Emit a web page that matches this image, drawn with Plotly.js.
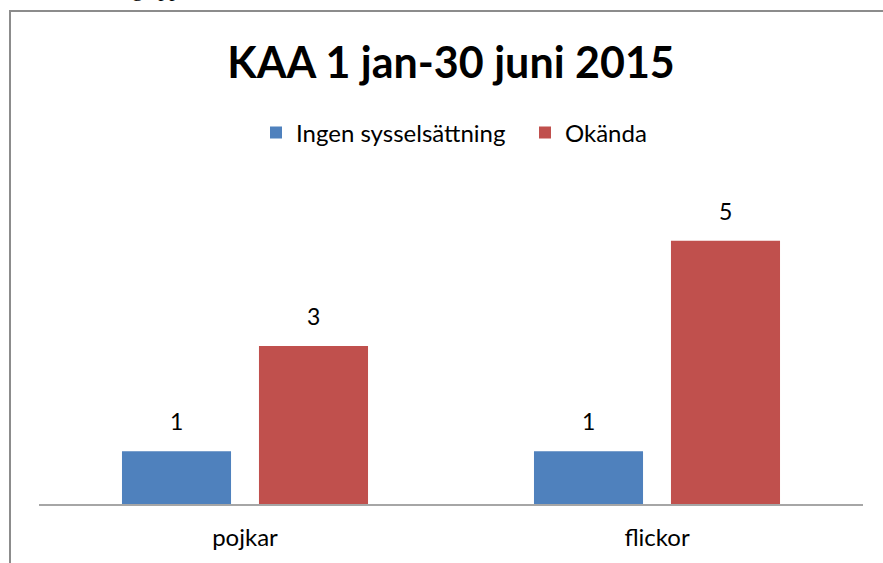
<!DOCTYPE html>
<html><head><meta charset="utf-8">
<script src="https://cdn.plot.ly/plotly-3.0.1.min.js"></script>
<style>html,body{margin:0;padding:0;background:#fff;}#chart{width:883px;height:563px;}</style>
</head><body><div id="chart"></div>
<script>
const categories = ["pojkar", "flickor"];
const seriesNames = ["Ingen sysselsättning", "Okända"];
const ingenValues = [1, 1];
const okandaValues = [3, 5];
const titleText = "KAA 1 jan-30 juni 2015";

const FONT = "Lato, 'Open Sans', sans-serif";
const traces = [
  {type:'bar', name:seriesNames[0], x:categories, y:ingenValues, marker:{color:'#4f81bd'}, hoverinfo:'none'},
  {type:'bar', name:seriesNames[1], x:categories, y:okandaValues, marker:{color:'#c0504d'}, hoverinfo:'none'}
];
const slotPx = 68.5;
const annotations = [];
[ingenValues, okandaValues].forEach((vals, si) => {
  vals.forEach((v, ci) => {
    annotations.push({text:String(v), xref:'x', yref:'y', x:categories[ci], y:v, xshift:(si === 0 ? -slotPx : slotPx),
      yanchor:'bottom', yshift:14, showarrow:false, font:{family:FONT, size:23, color:'#000'}});
  });
});
annotations.push({text:'g app', xref:'paper', yref:'paper', x:(130-39)/824, xanchor:'left', y:(504-3)/316, yanchor:'bottom',
    showarrow:false, font:{family:"'Liberation Serif', serif", size:22, color:'#000'}});
const layout = {
  width:883, height:563,
  margin:{l:39, r:20, t:188, b:59},
  paper_bgcolor:'#fff', plot_bgcolor:'#fff',
  showlegend:true,
  title:{text:titleText, font:{family:FONT, size:43, color:'#000', weight:'bold'}, x:0.5, xanchor:'center', y:1-63/563, yanchor:'middle', xref:'paper'},
  legend:{orientation:'h', x:0.5 + 74/824, xanchor:'center', y:(504-133)/316, yanchor:'middle', font:{family:FONT, size:24, color:'#000'},
          itemwidth:30, traceorder:'normal', entrywidth:224, entrywidthmode:'pixels'},
  barmode:'group', bargap:0.335, bargroupgap:0.204,
  xaxis:{showline:true, linecolor:'#a6a6a6', linewidth:1.5, ticks:'', showgrid:false, zeroline:false, ticklabelstandoff:12,
         tickfont:{family:FONT, size:24, color:'#000'}, fixedrange:true},
  yaxis:{range:[0,6], visible:false, showgrid:false, zeroline:false, fixedrange:true},
  annotations:annotations,
  shapes:[{type:'rect', xref:'paper', yref:'paper', x0:(10-39)/824, x1:(900-39)/824, y0:(504-11)/316, y1:-0.5,
    line:{color:'#8c8c8c', width:2}, fillcolor:'rgba(0,0,0,0)', layer:'above'}]
};
Plotly.newPlot('chart', traces, layout, {displayModeBar:false, staticPlot:true});
</script></body></html>
